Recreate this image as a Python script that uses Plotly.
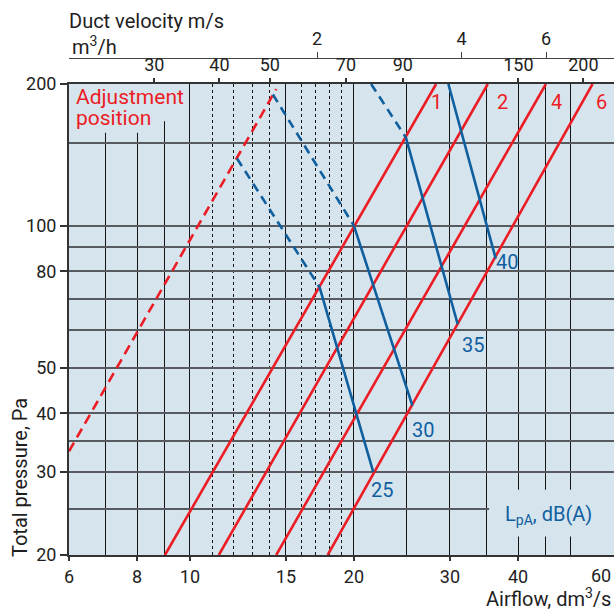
import math
import plotly.graph_objects as go

# ---------------- data ----------------
airflow_ticks = [6, 8, 10, 15, 20, 30, 40]          # dm3/s (60 sits on the right edge)
pressure_ticks = [20, 30, 40, 50, 80, 100, 200]      # Pa
m3h_ticks = [30, 40, 50, 70, 90, 150, 200]           # m3/h
velocity_ticks = [2, 4, 6]                           # m/s
grid_q_solid = [7, 8, 9, 10, 15, 20, 25, 30, 35, 40, 45, 50]
grid_q_dashed = [11, 12, 13, 14, 16, 17, 18, 19]
grid_p = [25, 30, 35, 40, 50, 60, 70, 80, 90, 100, 150]

# adjustment position lines: airflow at 20 Pa and at 200 Pa
adj_labels = ["1", "2", "4", "6"]
adj_q20 = [9.0, 11.3, 14.4, 17.9]
adj_q200 = [28.3, 35.2, 45.0, 54.8]
adj_label_q = [28.4, 37.4, 47.1, 57.0]
adj_label_p = [183, 183, 183, 183]

# dashed extension of the adjustment lines
ext_q = [6.0, 14.4]
ext_p = [33.2, 195]

# sound level lines LpA dB(A)
lpa_labels = ["25", "30", "35", "40"]
lpa_dash_q = [[12.2, 17.3], [14.2, 20.0], [21.5, 24.9], []]
lpa_dash_p = [[139, 74], [190, 100], [200, 154], []]
lpa_solid_q = [[17.3, 21.7], [20.0, 25.6], [24.9, 31.0], [29.8, 36.4]]
lpa_solid_p = [[74, 30], [100, 41.5], [154, 61.8], [200, 85.2]]
lpa_label_q = [22.5, 26.8, 33.0, 38.1]
lpa_label_p = [27.5, 36.9, 55.9, 83.6]

# ---------------- style ----------------
BG = "#d6e4ee"
RED = "#ec1c24"
BLUE = "#0f5f9f"
TXT = "#1e1e1e"
FONT = "Roboto"
L = math.log10

x_range = [L(6), L(60)]
y_range = [L(20), L(200)]
m3h_range = [1.31331, 2.35978]
vel_range = [-0.21626, 0.91987]
ydom = [0, 471 / 497]

fig = go.Figure()

# dummy traces so the overlay axes exist
for xa, ya in [("x2", "y"), ("x3", "y"), ("x4", "y"), ("x", "y2")]:
    fig.add_trace(go.Scatter(x=[], y=[], xaxis=xa, yaxis=ya, showlegend=False, hoverinfo="skip"))

# red adjustment lines
for q20, q200 in zip(adj_q20, adj_q200):
    fig.add_trace(go.Scatter(x=[q20, q200], y=[20, 200], mode="lines",
                             line=dict(color=RED, width=2.6), showlegend=False, hoverinfo="skip"))
fig.add_trace(go.Scatter(x=ext_q, y=ext_p, mode="lines",
                         line=dict(color=RED, width=2.6, dash="10px,6px"), showlegend=False, hoverinfo="skip"))

# blue sound-level lines
for dq, dp, sq, sp in zip(lpa_dash_q, lpa_dash_p, lpa_solid_q, lpa_solid_p):
    if dq:
        fig.add_trace(go.Scatter(x=dq, y=dp, mode="lines",
                                 line=dict(color=BLUE, width=2.6, dash="9px,6px"), showlegend=False, hoverinfo="skip"))
    fig.add_trace(go.Scatter(x=sq, y=sp, mode="lines",
                             line=dict(color=BLUE, width=2.6), showlegend=False, hoverinfo="skip"))

ann = []
for lab, q, p in zip(adj_labels, adj_label_q, adj_label_p):
    ann.append(dict(x=L(q), y=L(p), xref="x", yref="y", text=lab, showarrow=False,
                    font=dict(family=FONT, size=20, color=RED), xanchor="center", yanchor="middle"))
for lab, q, p in zip(lpa_labels, lpa_label_q, lpa_label_p):
    ann.append(dict(x=L(q), y=L(p), xref="x", yref="y", text=lab, showarrow=False,
                    font=dict(family=FONT, size=20, color=BLUE), xanchor="center", yanchor="middle"))

def px(xp):
    return (xp - 69) / 545

def py(yp):
    return (555 - yp) / 497

ann += [
    dict(x=px(74), y=py(97), xref="paper", yref="paper", text="Adjustment", showarrow=False,
         xanchor="left", yanchor="middle", font=dict(family=FONT, size=21, color=RED)),
    dict(x=px(74), y=py(118), xref="paper", yref="paper", text="position", showarrow=False,
         xanchor="left", yanchor="middle", font=dict(family=FONT, size=21, color=RED)),
    dict(x=px(503), y=py(515), xref="paper", yref="paper", text="L<sub>pA</sub>, dB(A)", showarrow=False,
         xanchor="left", yanchor="middle", font=dict(family=FONT, size=20, color=BLUE)),
    dict(x=px(20), y=py(478), xref="paper", yref="paper", text="Total pressure, Pa", showarrow=False,
         textangle=-90, xanchor="center", yanchor="middle", font=dict(family=FONT, size=20, color=TXT)),
    dict(x=px(613), y=py(598), xref="paper", yref="paper", text="Airflow, dm<sup>3</sup>/s", showarrow=False,
         xanchor="right", yanchor="middle", font=dict(family=FONT, size=20, color=TXT)),
    dict(x=px(601), y=py(575), xref="paper", yref="paper", text="60", showarrow=False,
         xanchor="center", yanchor="middle", font=dict(family=FONT, size=18, color=TXT)),
    dict(x=px(67), y=py(21), xref="paper", yref="paper", text="Duct velocity m/s", showarrow=False,
         xanchor="left", yanchor="middle", font=dict(family=FONT, size=20, color=TXT)),
    dict(x=px(70), y=py(46), xref="paper", yref="paper", text="m<sup>3</sup>/h", showarrow=False,
         xanchor="left", yanchor="middle", font=dict(family=FONT, size=20, color=TXT)),
]

# masks that hide the grid behind the text blocks
shapes = [
    dict(type="rect", xref="x", yref="y", x0=6, x1=9.5, y0=166.8, y1=200, layer="between",
         fillcolor=BG, line=dict(width=0)),
    dict(type="rect", xref="x", yref="y", x0=6, x1=8.7, y0=157.5, y1=200, layer="between",
         fillcolor=BG, line=dict(width=0)),
    dict(type="rect", xref="x", yref="y", x0=35.4, x1=60, y0=21.9, y1=27.5, layer="between",
         fillcolor=BG, line=dict(width=0)),
]

tickfont = dict(family=FONT, size=18, color=TXT)

fig.update_layout(
    width=614, height=610,
    margin=dict(l=69, r=0, t=58, b=55),
    paper_bgcolor="white", plot_bgcolor=BG, showlegend=False,
    font=dict(family=FONT, size=18, color=TXT),
    annotations=ann, shapes=shapes,
    xaxis=dict(type="log", range=x_range, domain=[0, 1], tickmode="array", tickvals=grid_q_solid,
               ticks="", showticklabels=False, showgrid=True, gridcolor="#141414", gridwidth=1.2,
               minor=dict(tickmode="array", tickvals=grid_q_dashed, showgrid=True, gridcolor="#141414",
                          gridwidth=1, griddash="3px,3px", ticks=""),
               showline=True, linecolor="#333333", linewidth=2, zeroline=False),
    yaxis=dict(type="log", range=y_range, domain=ydom, tickmode="array", tickvals=grid_p,
               ticks="", showticklabels=False, showgrid=True, gridcolor="#575b60", gridwidth=1.6,
               showline=True, linecolor="#333333", linewidth=2, zeroline=False),
    xaxis2=dict(type="log", overlaying="x", anchor="y", side="bottom", range=x_range,
                tickmode="array", tickvals=airflow_ticks, ticktext=[str(v) for v in airflow_ticks],
                ticks="outside", ticklen=5, tickwidth=1.5, tickcolor="#333333",
                showgrid=False, showline=False, zeroline=False, tickfont=tickfont),
    yaxis2=dict(type="log", overlaying="y", anchor="x", side="left", range=y_range,
                tickmode="array", tickvals=pressure_ticks, ticktext=[str(v) for v in pressure_ticks],
                ticks="outside", ticklen=8, tickwidth=1.5, tickcolor="#333333",
                showgrid=False, showline=False, zeroline=False, tickfont=tickfont),
    xaxis3=dict(type="log", overlaying="x", anchor="y", side="top", range=m3h_range,
                tickmode="array", tickvals=m3h_ticks, ticktext=[str(v) for v in m3h_ticks],
                ticks="outside", ticklen=4, tickwidth=1.5, tickcolor="#333333",
                showgrid=False, showline=True, linecolor="#333333", linewidth=1.8,
                zeroline=False, tickfont=tickfont),
    xaxis4=dict(type="log", overlaying="x", anchor="free", position=1, side="top", range=vel_range,
                tickmode="array", tickvals=velocity_ticks, ticktext=[str(v) for v in velocity_ticks],
                ticks="outside", ticklen=6, tickwidth=1.3, tickcolor="#444444",
                showgrid=False, showline=True, linecolor="#444444", linewidth=1.2,
                zeroline=False, tickfont=tickfont),
)

fig.write_html("out.html", config={"displayModeBar": False},
               post_script="document.body.style.margin='0';document.body.style.overflow='hidden';")
